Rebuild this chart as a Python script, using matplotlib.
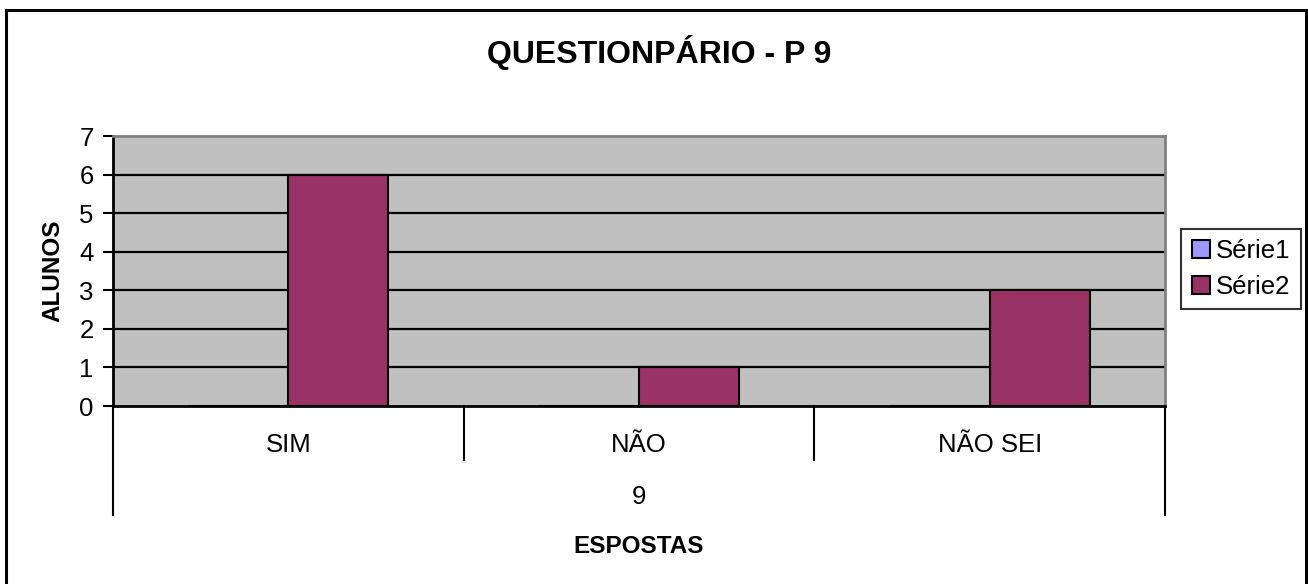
import matplotlib
matplotlib.use("Agg")
import matplotlib.pyplot as plt
import matplotlib.transforms as mtransforms
from matplotlib.lines import Line2D
from matplotlib.patches import Patch
import numpy as np

categories = ["SIM", "NÃO", "NÃO SEI"]
group_label = "9"
serie1 = [0, 0, 0]
serie2 = [6, 1, 3]
series_names = ["Série1", "Série2"]
title = "QUESTIONPÁRIO - P 9"
ylabel = "ALUNOS"
xlabel = "ESPOSTAS"
yticks = [0, 1, 2, 3, 4, 5, 6, 7]

plt.rcParams['font.family'] = ['Liberation Sans', 'DejaVu Sans']

W, H = 1308, 584
fig = plt.figure(figsize=(W / 100, H / 100), dpi=100)

# outer chart border (bottom edge lies outside the image)
for xs, ys in [((6, 1306), (10, 10)), ((1306, 1306), (10, 584)), ((6, 6), (10, 584))]:
    fig.add_artist(Line2D([x / W for x in xs], [1 - y / H for y in ys], color='black', lw=2.2,
                          transform=fig.transFigure))

left, right, top, bottom = 113, 1165, 136, 406
ax = fig.add_axes([left / W, 1 - bottom / H, (right - left) / W, (bottom - top) / H])
ax.set_facecolor('#C0C0C0')

x = np.arange(len(categories))
bw = 0.285
ax.bar(x - bw / 2, serie1, width=bw, color='#9999FF', edgecolor='black', lw=1.5, zorder=3)
ax.bar(x + bw / 2, serie2, width=bw, color='#993366', edgecolor='black', lw=1.5, zorder=3)

ax.set_xlim(-0.5, len(categories) - 0.5)
ax.set_ylim(0, 7)
ax.set_yticks(yticks)
for yv in yticks[1:-1]:
    ax.axhline(yv, color='black', lw=1.6, zorder=1)

ax.tick_params(axis='y', length=7, width=1.5, direction='out', labelsize=18.5, pad=7)
ax.set_xticks([])
for s in ['top', 'right']:
    ax.spines[s].set_color('#808080')
    ax.spines[s].set_linewidth(2)
for s in ['left', 'bottom']:
    ax.spines[s].set_color('black')
    ax.spines[s].set_linewidth(2)

trans = mtransforms.blended_transform_factory(ax.transData, ax.transAxes)
n = len(categories)
for i in range(n + 1):
    xv = i - 0.5
    depth = -0.404 if i in (0, n) else -0.2
    ax.add_line(Line2D([xv, xv], [0, depth], color='black', lw=1.5, transform=trans, clip_on=False))
for i, c in enumerate(categories):
    ax.text(i, -0.144, c, transform=trans, ha='center', va='center', fontsize=18.5)
ax.text((n - 1) / 2, -0.337, group_label, transform=trans, ha='center', va='center', fontsize=18.5)
ax.text((n - 1) / 2, -0.522, xlabel, transform=trans, ha='center', va='center', fontsize=17.5,
        fontweight='bold')

ax.text((53 - left) / (right - left), 0.5, ylabel, transform=ax.transAxes, rotation=90,
        ha='center', va='center', fontsize=17.5, fontweight='bold')

fig.text(659 / W, 1 - 53 / H, title, ha='center', va='center', fontsize=23, fontweight='bold')

handles = [Patch(facecolor='#9999FF', edgecolor='black', lw=1.5),
           Patch(facecolor='#993366', edgecolor='black', lw=1.5)]
leg = fig.legend(handles, series_names, loc='center', bbox_to_anchor=(1241 / W, 1 - 269 / H),
                 fontsize=18.5, frameon=True, fancybox=False, handlelength=0.7, handleheight=0.7,
                 handletextpad=0.25, labelspacing=0.45, borderpad=0.4, borderaxespad=0)
leg.get_frame().set_edgecolor('black')
leg.get_frame().set_linewidth(1.5)

fig.savefig('out.png', dpi=100)
